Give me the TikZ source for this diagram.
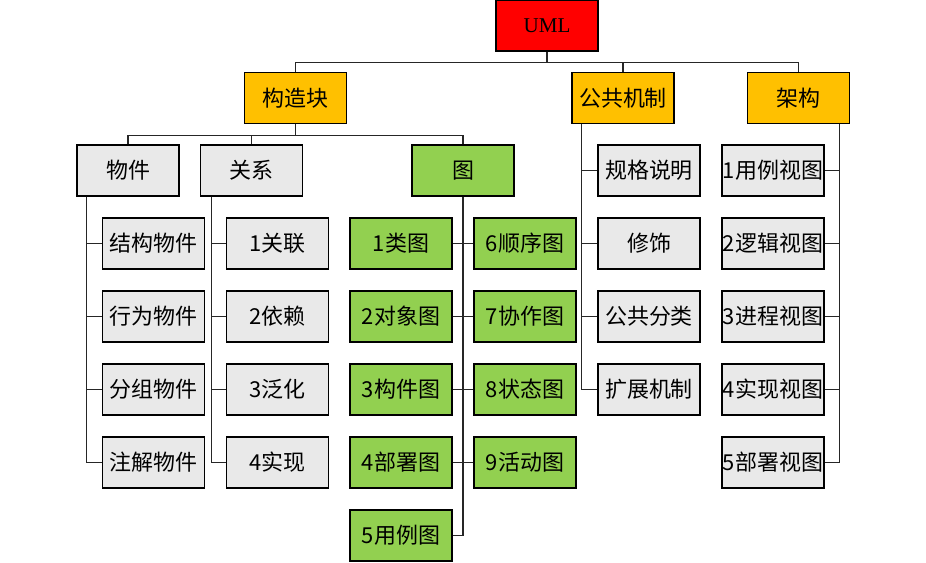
\documentclass[tikz,border=0pt]{standalone}
\usepackage{fontspec}
\setmainfont{Liberation Serif}
\newfontfamily\cjk{Noto Sans CJK SC}
\definecolor{umlred}{HTML}{FF0000}
\definecolor{lvlorange}{HTML}{FFC000}
\definecolor{diaggreen}{HTML}{92D050}
\definecolor{leafgray}{HTML}{E9E9E9}
\tikzset{
  box/.style={draw, line width=0.7pt, minimum width=2.04cm, minimum height=1.02cm,
    inner sep=0pt, font=\fontsize{12.5}{15}\selectfont\cjk},
  wire/.style={line width=0.6pt, black!85}
}
\begin{document}
\begin{tikzpicture}[x=0.02cm, y=-0.02cm]
  \useasboundingbox (0,0) rectangle (926,563);
  %% Upper levels
  \node[box, fill=umlred, font=\fontsize{12}{14}\selectfont] (uml) at (547,25.5) {UML};
  \node[box, fill=lvlorange] (block) at (295.5,98) {构造块};
  \node[box, fill=lvlorange] (mech) at (623,98) {公共机制};
  \node[box, fill=lvlorange] (arch) at (798.5,98) {架构};
  \node[box, fill=leafgray] (thing) at (128,170.5) {物件};
  \node[box, fill=leafgray] (rel) at (251.5,170.5) {关系};
  \node[box, fill=diaggreen] (diag) at (463,170.5) {图};
  %% Leaves: {i}/{label}
  \foreach \i/\txt in {1/结构物件,2/行为物件,3/分组物件,4/注解物件}
    \node[box, fill=leafgray] (thing\i) at (153.5,{170.5+73*\i}) {\txt};
  \foreach \i/\txt in {1/1关联,2/2依赖,3/3泛化,4/4实现}
    \node[box, fill=leafgray] (rel\i) at (277.5,{170.5+73*\i}) {\txt};
  \foreach \i/\txt in {1/1类图,2/2对象图,3/3构件图,4/4部署图,5/5用例图}
    \node[box, fill=diaggreen] (diag\i) at (401,{170.5+73*\i}) {\txt};
  \foreach \i/\txt in {6/6顺序图,7/7协作图,8/8状态图,9/9活动图}
    \node[box, fill=diaggreen] (diag\i) at (525,{170.5+73*(\i-5)}) {\txt};
  \foreach \i/\txt in {1/规格说明,2/修饰,3/公共分类,4/扩展机制}
    \node[box, fill=leafgray] (mech\i) at (649,{170.5+73*(\i-1)}) {\txt};
  \foreach \i/\txt in {1/1用例视图,2/2逻辑视图,3/3进程视图,4/4实现视图,5/5部署视图}
    \node[box, fill=leafgray] (arch\i) at (773,{170.5+73*(\i-1)}) {\txt};
  %% Connectors
  \foreach \n in {block,mech,arch}
    \draw[wire] (uml.south) -- ++(0,11) -| (\n.north);
  \foreach \n in {thing,rel,diag}
    \draw[wire] (block.south) -- ++(0,11) -| (\n.north);
  \foreach \i in {1,...,4}{
    \draw[wire] ([xshift=0.2cm]thing.south west) |- (thing\i.west);
    \draw[wire] ([xshift=0.24cm]rel.south west) |- (rel\i.west);
    \draw[wire] ([xshift=0.2cm]mech.south west) |- (mech\i.west);
  }
  \draw[wire] (diag.south) |- (diag5.east);
  \foreach \i/\j in {1/6,2/7,3/8,4/9}
    \draw[wire] (diag\i.east) -- (diag\j.west);
  \foreach \i in {1,...,5}
    \draw[wire] ([xshift=-0.22cm]arch.south east) |- (arch\i.east);
\end{tikzpicture}
\end{document}
